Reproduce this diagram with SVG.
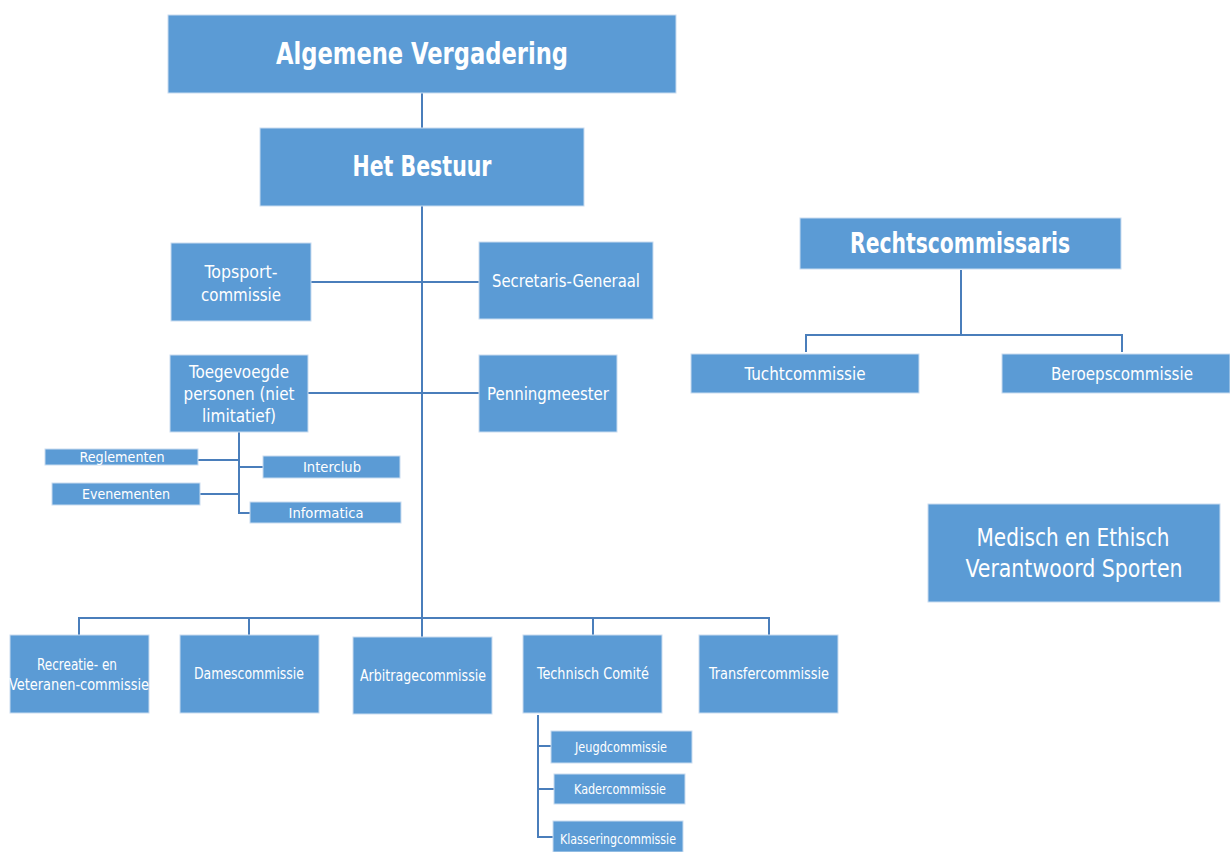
<svg xmlns="http://www.w3.org/2000/svg" width="1230" height="852" viewBox="0 0 1230 852">
<style>
.box{fill:#5b9bd5;stroke:#c9dcf0;stroke-width:1}
text{fill:#ffffff;font-family:"Liberation Sans Narrow","DejaVu Sans Condensed","Liberation Sans",sans-serif;text-anchor:middle}
.b{font-weight:bold}
.c{fill:none;stroke:#4a7ebb;stroke-width:2}
</style>
<rect width="1230" height="852" fill="#ffffff"/>
<g id="connectors">
<path class="c" d="M422,93V128"/>
<path class="c" d="M422,206V618"/>
<path class="c" d="M311,282H479"/>
<path class="c" d="M308,393H479"/>
<path class="c" d="M239,432V513H250"/>
<path class="c" d="M198,460H239"/>
<path class="c" d="M239,467H263"/>
<path class="c" d="M200,494H239"/>
<path class="c" d="M79,635V618H769V635"/>
<path class="c" d="M249,618V635"/>
<path class="c" d="M422,618V637"/>
<path class="c" d="M593,618V635"/>
<path class="c" d="M538,715V837H553"/>
<path class="c" d="M538,746H551"/>
<path class="c" d="M538,789H554"/>
<path class="c" d="M961,270V335"/>
<path class="c" d="M806,352V335H1122V352"/>
</g>
<g id="algemene-vergadering"><rect class="box" x="168" y="15" width="508" height="78"/><text class="b" x="422" y="64" font-size="30" textLength="292" lengthAdjust="spacingAndGlyphs">Algemene Vergadering</text></g>
<g id="het-bestuur"><rect class="box" x="260" y="128" width="324" height="78"/><text class="b" x="422" y="176" font-size="28" textLength="139" lengthAdjust="spacingAndGlyphs">Het Bestuur</text></g>
<g id="topsport"><rect class="box" x="171" y="243" width="140" height="78"/><text x="241" y="278" font-size="18" textLength="73" lengthAdjust="spacingAndGlyphs">Topsport-</text><text x="241" y="301" font-size="18" textLength="80" lengthAdjust="spacingAndGlyphs">commissie</text></g>
<g id="secretaris"><rect class="box" x="479" y="242" width="174" height="77"/><text x="566" y="287" font-size="18" textLength="148" lengthAdjust="spacingAndGlyphs">Secretaris-Generaal</text></g>
<g id="toegevoegde"><rect class="box" x="170" y="355" width="138" height="77"/><text x="239" y="378" font-size="18" textLength="100" lengthAdjust="spacingAndGlyphs">Toegevoegde</text><text x="239" y="400" font-size="18" textLength="111" lengthAdjust="spacingAndGlyphs">personen (niet</text><text x="239" y="422" font-size="18" textLength="74" lengthAdjust="spacingAndGlyphs">limitatief)</text></g>
<g id="penningmeester"><rect class="box" x="479" y="355" width="138" height="77"/><text x="548" y="400" font-size="18" textLength="122" lengthAdjust="spacingAndGlyphs">Penningmeester</text></g>
<g id="reglementen"><rect class="box" x="45" y="449" width="153" height="16"/><text x="122" y="462" font-size="14" textLength="85" lengthAdjust="spacingAndGlyphs">Reglementen</text></g>
<g id="interclub"><rect class="box" x="263" y="456" width="137" height="22"/><text x="332" y="472" font-size="14" textLength="58" lengthAdjust="spacingAndGlyphs">Interclub</text></g>
<g id="evenementen"><rect class="box" x="52" y="483" width="148" height="22"/><text x="126" y="499" font-size="14" textLength="88" lengthAdjust="spacingAndGlyphs">Evenementen</text></g>
<g id="informatica"><rect class="box" x="250" y="502" width="151" height="21"/><text x="326" y="518" font-size="14" textLength="75" lengthAdjust="spacingAndGlyphs">Informatica</text></g>
<g id="recreatie"><rect class="box" x="10" y="635" width="139" height="78"/><text x="77" y="670" font-size="15" textLength="80" lengthAdjust="spacingAndGlyphs">Recreatie- en</text><text x="79" y="690" font-size="15" textLength="140" lengthAdjust="spacingAndGlyphs">Veteranen-commissie</text></g>
<g id="dames"><rect class="box" x="180" y="635" width="139" height="78"/><text x="249" y="679" font-size="15" textLength="110" lengthAdjust="spacingAndGlyphs">Damescommissie</text></g>
<g id="arbitrage"><rect class="box" x="353" y="637" width="139" height="77"/><text x="423" y="681" font-size="15" textLength="126" lengthAdjust="spacingAndGlyphs">Arbitragecommissie</text></g>
<g id="technisch"><rect class="box" x="523" y="635" width="139" height="78"/><text x="593" y="679" font-size="15" textLength="112" lengthAdjust="spacingAndGlyphs">Technisch Comité</text></g>
<g id="transfer"><rect class="box" x="699" y="635" width="139" height="78"/><text x="769" y="679" font-size="15" textLength="120" lengthAdjust="spacingAndGlyphs">Transfercommissie</text></g>
<g id="jeugd"><rect class="box" x="551" y="731" width="141" height="32"/><text x="621" y="752" font-size="14" textLength="92" lengthAdjust="spacingAndGlyphs">Jeugdcommissie</text></g>
<g id="kader"><rect class="box" x="554" y="774" width="131" height="30"/><text x="620" y="794" font-size="14" textLength="92" lengthAdjust="spacingAndGlyphs">Kadercommissie</text></g>
<g id="klassering"><rect class="box" x="553" y="821" width="130" height="31"/><text x="618" y="844" font-size="14" textLength="116" lengthAdjust="spacingAndGlyphs">Klasseringcommissie</text></g>
<g id="rechtscommissaris"><rect class="box" x="800" y="218" width="321" height="51"/><text class="b" x="960" y="253" font-size="28" textLength="220" lengthAdjust="spacingAndGlyphs">Rechtscommissaris</text></g>
<g id="tucht"><rect class="box" x="691" y="354" width="228" height="39"/><text x="805" y="380" font-size="17" textLength="121" lengthAdjust="spacingAndGlyphs">Tuchtcommissie</text></g>
<g id="beroep"><rect class="box" x="1002" y="354" width="228" height="39"/><text x="1122" y="380" font-size="17" textLength="142" lengthAdjust="spacingAndGlyphs">Beroepscommissie</text></g>
<g id="medisch"><rect class="box" x="928" y="504" width="292" height="98"/><text x="1073" y="546" font-size="24" textLength="193" lengthAdjust="spacingAndGlyphs">Medisch en Ethisch</text><text x="1074" y="577" font-size="24" textLength="217" lengthAdjust="spacingAndGlyphs">Verantwoord Sporten</text></g>
</svg>
